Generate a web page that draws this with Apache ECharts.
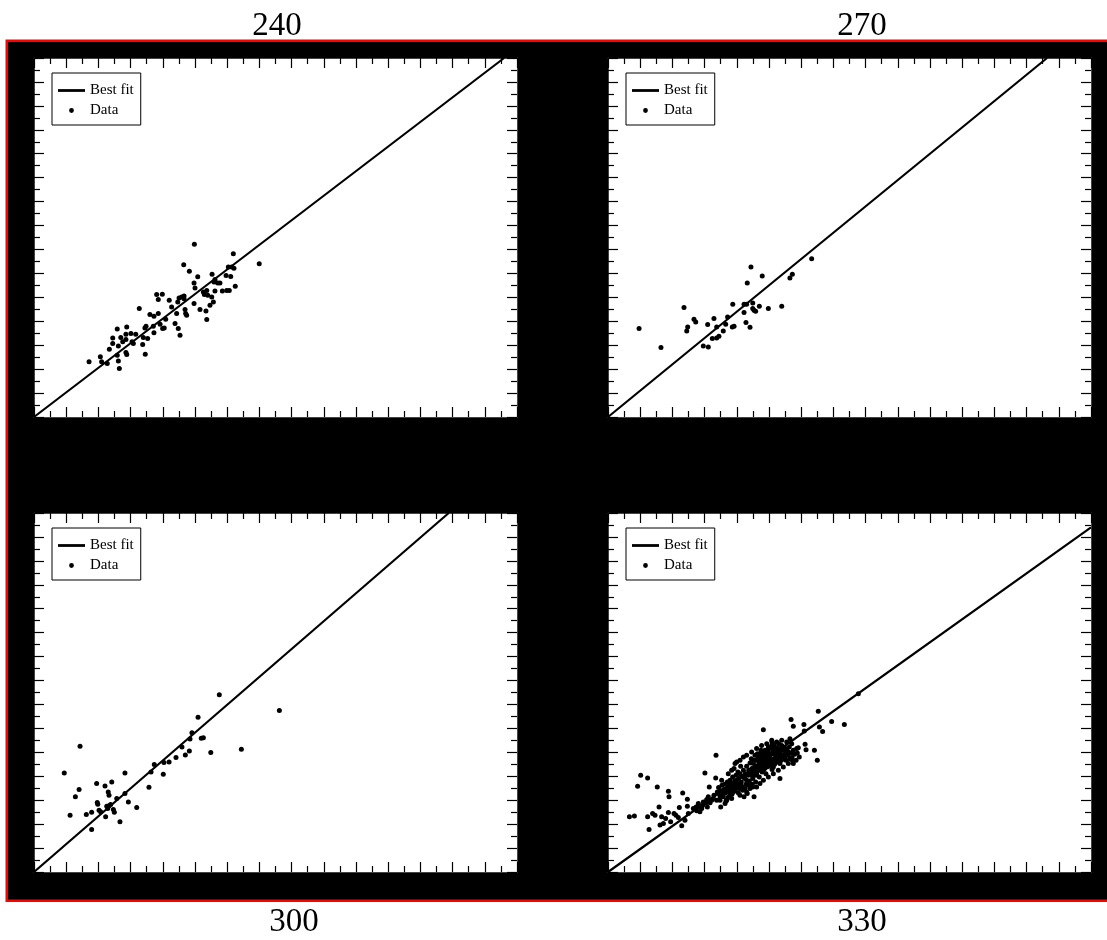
<!DOCTYPE html>
<html><head><meta charset="utf-8">
<script src="https://cdn.jsdelivr.net/npm/echarts@6/dist/echarts.min.js"></script>
<style>html,body{margin:0;padding:0;background:#fff;overflow:hidden}#c{width:1107px;height:940px}</style>
</head><body><div id="c"></div>
<script>
const panelTitles = ['240', '270', '300', '330'];
const seriesNames = ['Best fit', 'Data'];

const data240 = [[3.42,4.61],[4.12,5.03],[4.20,4.61],[4.55,4.48],[5.24,4.67],[5.30,4.06],[5.17,5.17],[4.68,5.67],[4.89,6.14],[4.89,6.61],[5.17,7.36],[5.24,5.94],[5.39,6.64],[5.51,6.28],[5.71,6.48],[5.76,7.53],[5.71,6.92],[6.02,6.98],[5.71,5.39],[5.76,5.23],[6.09,6.28],[6.17,6.14],[6.32,6.92],[6.54,9.06],[6.75,6.06],[6.79,6.64],[6.89,7.44],[6.96,7.58],[6.91,5.25],[7.06,6.56],[7.20,8.56],[7.41,7.58],[7.45,8.42],[7.45,7.03],[7.62,10.23],[7.72,9.81],[7.72,8.64],[7.83,7.75],[7.97,10.25],[7.99,7.39],[8.09,7.44],[8.18,8.17],[8.40,9.75],[8.55,9.19],[8.76,7.81],[8.86,8.64],[8.93,9.61],[8.96,7.39],[9.01,9.94],[9.07,6.83],[9.17,10.03],[9.32,10.11],[9.32,9.89],[9.38,8.98],[9.42,8.64],[9.48,8.50],[9.30,12.73],[9.65,12.19],[9.96,14.44],[9.94,11.19],[10.00,10.78],[9.94,9.48],[10.17,11.73],[10.31,8.98],[10.52,10.44],[10.58,10.23],[10.68,8.86],[10.73,8.14],[10.73,10.58],[10.79,10.17],[10.93,9.33],[11.06,11.92],[11.04,10.03],[11.14,9.61],[11.18,11.28],[11.24,11.5],[11.24,10.53],[11.41,11.19],[11.55,11.19],[11.70,10.53],[11.93,11.83],[11.97,10.58],[12.07,12.53],[12.13,10.58],[12.22,11.75],[12.28,12.53],[12.38,13.64],[12.42,12.44],[12.50,10.92],[13.99,12.81]];

const data270 = [[1.93,7.39],[3.29,5.81],[4.72,9.14],[4.95,7.53],[4.89,7.19],[5.34,8.17],[5.45,7.94],[5.92,5.94],[6.19,7.73],[6.23,5.86],[6.48,6.56],[6.58,8.23],[6.75,7.53],[6.75,6.61],[6.89,6.75],[7.16,7.19],[7.31,7.75],[7.43,8.36],[7.72,7.53],[7.83,7.58],[7.75,9.42],[8.45,9.42],[8.45,8.73],[8.57,7.89],[8.61,9.42],[8.65,11.19],[8.82,7.5],[8.88,12.53],[8.99,9.53],[8.99,9.06],[9.07,8.92],[9.17,8.83],[9.40,9.25],[9.58,11.78],[9.96,9.06],[10.79,9.25],[11.30,11.61],[11.45,11.92],[12.65,13.23]];

const data300 = [[1.88,8.28],[2.24,4.75],[2.57,6.28],[2.80,6.89],[2.86,10.5],[3.25,4.81],[3.58,5.0],[3.58,3.56],[3.89,7.39],[3.93,5.81],[3.96,5.67],[4.04,5.17],[4.14,5.03],[4.41,7.19],[4.45,4.61],[4.52,5.5],[4.58,5.31],[4.61,6.69],[4.66,6.42],[4.66,5.53],[4.76,5.64],[4.83,7.53],[4.93,5.23],[4.99,5.0],[5.14,6.14],[5.34,4.19],[5.65,8.28],[5.65,6.56],[5.86,5.86],[6.38,5.39],[7.14,7.08],[7.27,8.36],[7.47,8.98],[8.03,8.17],[8.07,9.14],[8.39,9.19],[8.82,9.56],[9.19,10.44],[9.40,9.78],[9.65,10.11],[9.69,11.11],[9.81,11.64],[10.19,12.94],[10.39,11.17],[10.52,11.22],[10.98,9.98],[11.51,14.81],[12.88,10.25],[15.24,13.5]];

const data330 = [[1.33,4.61],[1.64,4.67],[1.84,7.17],[2.03,8.08],[2.46,7.86],[2.55,3.56],[2.46,4.61],[2.77,4.89],[2.92,4.75],[3.06,7.11],[3.17,5.44],[3.23,3.92],[3.33,4.61],[3.44,4.06],[3.58,4.47],[3.75,6.75],[3.79,6.28],[3.75,4.97],[3.89,4.19],[4.10,4.89],[4.22,4.75],[4.37,4.56],[4.43,5.39],[4.58,3.86],[4.64,6.61],[4.78,4.33],[4.93,6.08],[4.93,5.5],[4.99,4.89],[5.30,5.31],[5.47,5.44],[5.61,5.72],[5.71,5.03],[5.82,5.31],[6.02,8.28],[5.92,5.86],[6.13,6.06],[6.23,6.28],[6.29,7.11],[6.34,5.78],[6.54,6.14],[6.71,9.75],[6.69,7.86],[6.85,6.56],[6.96,6.0],[7.00,5.44],[7.27,5.72],[7.33,5.94],
[9.65,11.89],[10.19,10.86],[10.23,10.72],[10.68,7.81],[10.79,10.58],[11.30,11.14],[11.37,12.75],[11.51,12.19],[11.45,9.33],[11.72,10.31],[11.82,10.39],[12.17,12.33],[12.19,11.78],[12.24,10.67],[12.30,10.22],[12.82,10.17],[13.00,9.33],[13.06,13.44],[13.13,12.11],[13.33,11.75],[13.89,12.58],[14.68,12.33],[15.55,14.89],
[6.79,6.69],[6.87,7.06],[6.96,6.28],[7.02,6.78],[7.08,7.25],[7.12,6.5],[7.20,6.89],[7.25,7.33],[7.29,6.61],[7.37,6.97],[7.41,7.53],[7.45,6.22],[7.49,7.17],[7.54,6.69],[7.58,7.67],[7.62,6.89],[7.66,7.39],[7.70,6.5],[7.74,7.94],[7.78,7.11],
[7.83,8.64],[7.87,7.61],[7.91,6.78],[7.95,8.08],[7.99,9.19],[8.03,7.33],[8.07,8.36],[8.12,7.81],[8.16,6.97],[8.20,8.22],[8.24,8.83],[8.28,7.53],[8.32,8.0],[8.36,6.83],[8.41,8.5],[8.45,6.28],[8.49,7.81],[8.53,8.22],[8.57,7.33],[8.61,8.83],[8.65,6.56],[8.70,8.08],[8.74,8.5],[8.78,7.61],[8.82,9.11],
[8.86,8.22],[8.90,9.47],[8.94,8.64],[8.99,7.81],[9.03,9.06],[9.07,6.28],[9.09,8.36],[9.13,9.75],[9.15,8.83],[9.19,8.08],[9.23,9.33],[9.28,8.5],[9.32,9.61],[9.36,9.0],[9.40,7.94],[9.44,9.89],[9.48,8.72],[9.52,9.39],[9.57,8.36],[9.61,9.75],[9.65,9.06],[9.69,10.03],[9.73,8.64],[9.77,9.47],[9.81,8.22],[9.86,9.83],
[9.90,9.19],[9.94,10.17],[9.98,8.83],[10.02,9.61],[10.06,10.39],[10.10,9.33],[10.14,9.89],[10.19,8.56],[10.23,10.22],[10.27,9.47],[10.31,10.58],[10.35,9.0],[10.39,9.94],[10.43,9.56],[10.48,10.39],[10.52,9.19],[10.56,10.11],[10.60,10.72],[10.64,9.61],[10.68,9.89],[10.72,10.31],[10.77,9.33],[10.81,10.5],[10.85,9.75],[10.89,10.17],[10.93,9.47],[10.97,10.39],[11.01,9.89],[11.06,9.33],[11.10,10.22],
[11.18,9.75],[11.26,10.44],[11.35,9.94],[11.43,9.56],[11.51,10.17],[11.59,9.83],[11.68,9.33],[11.76,9.94],[11.88,9.61],
[8.72,7.25],[8.96,7.33],[9.17,7.53],[9.38,8.5],[9.59,8.83],[9.79,9.06],[10.00,9.75],[10.21,9.06],[10.41,9.19],[10.62,10.03],[8.99,7.11],[8.51,6.97],[8.30,7.17],[8.10,6.61],[7.89,7.25],[7.68,6.14],[7.47,6.69],[9.23,8.78],[9.44,9.19],[9.65,9.47],[9.86,8.78],[10.06,9.89],[10.27,9.89],[10.48,9.67],[10.68,9.47],[9.07,9.33],[9.28,9.89],[9.50,10.17],[9.71,9.75],[9.92,9.53],
[7.47,8.22],[7.68,8.5],[7.89,9.06],[8.20,9.33],[8.41,9.61],[8.61,9.75],[8.92,10.03],[9.23,10.31],[9.54,10.58],[9.86,10.72],[10.17,11.0],[10.48,10.86],[10.79,11.0],[11.10,10.86],[11.41,10.72],
[8.20,6.42],[8.61,6.69],[8.82,6.97],[9.23,7.11],[9.44,7.39],[9.65,7.67],[9.96,7.94],[10.27,8.22],[10.58,8.5],[10.89,8.78],[11.20,9.06],[11.51,9.06],
[8.92,8.08],[9.13,8.5],[9.34,9.33],[9.54,9.61],[9.75,10.17],[9.96,10.44],[10.17,10.58],[10.37,10.31],[10.58,9.75],[10.79,10.17],[10.99,9.61],[11.20,10.03],[11.30,9.47],
[7.99,7.67],[8.20,7.39],[8.41,7.94],[8.61,7.67],[8.82,8.5],[9.03,8.64],[9.23,8.22],[9.44,8.78],[9.65,8.5],[9.86,9.33],[10.06,9.06],[10.27,8.78],[10.48,9.33],[10.68,9.06],
[7.16,6.28],[7.37,6.0],[7.58,6.42],[7.78,6.69],[7.99,7.11],[7.06,7.67],
[5.51,5.11],[5.67,5.44],[5.88,5.58],[6.09,5.78],[6.17,5.44],[6.44,6.0],[6.58,6.42],[6.75,6.0]];

const fit240 = [[0, 0], [29.2, 30]];
const fit270 = [[0, 0], [27.27, 30]];
const fit300 = [[0, 0], [25.76, 30]];
const fit330 = [[0, 0], [30, 28.8]];

const axisMin = 0, axisMax = 30, majorStep = 2;

const panelData = [data240, data270, data300, data330];
const panelFits = [fit240, fit270, fit300, fit330];

const gridPos = [{left: 34, top: 58}, {left: 608, top: 58}, {left: 34, top: 513}, {left: 608, top: 513}];
const titlePos = [{x: 277, y: 10}, {x: 862, y: 10}, {x: 294, y: 906}, {x: 862, y: 906}];

const chart = echarts.init(document.getElementById('c'), null, {renderer: 'canvas'});

const grids = gridPos.map(g => ({
  left: g.left, top: g.top, width: 483, height: 359,
  show: true, backgroundColor: '#fff', borderWidth: 0, containLabel: false, outerBoundsMode: 'none'
}));

function makeAxis(gi, position) {
  return {
    type: 'value', gridIndex: gi, position: position,
    min: axisMin, max: axisMax, interval: majorStep,
    axisLine: {show: true, onZero: false, lineStyle: {color: '#444', width: 1}},
    axisTick: {show: true, inside: true, length: 10, lineStyle: {color: '#000', width: 1.2}},
    minorTick: {show: true, splitNumber: 2, length: 6, lineStyle: {color: '#000', width: 1.2}},
    axisLabel: {show: false},
    splitLine: {show: false}, minorSplitLine: {show: false}
  };
}

const xAxes = [], yAxes = [], series = [], titles = [], legends = [];
gridPos.forEach((g, i) => {
  xAxes.push(makeAxis(i, 'bottom'), makeAxis(i, 'top'));
  yAxes.push(makeAxis(i, 'left'), makeAxis(i, 'right'));
  series.push({
    type: 'line', name: seriesNames[0], xAxisIndex: 2 * i, yAxisIndex: 2 * i,
    data: panelFits[i], symbol: 'none', showSymbol: false, silent: true, z: 3,
    lineStyle: {color: '#000', width: 2.2}, itemStyle: {color: '#000'}
  });
  series.push({
    type: 'scatter', name: seriesNames[1], xAxisIndex: 2 * i, yAxisIndex: 2 * i,
    data: panelData[i], symbol: 'circle', symbolSize: 5, z: 4,
    itemStyle: {color: '#000', borderWidth: 0, opacity: 1}
  });
  titles.push({
    text: panelTitles[i], left: titlePos[i].x, top: titlePos[i].y, padding: 0,
    textAlign: 'center',
    textStyle: {fontFamily: 'Liberation Serif', fontSize: 33, fontWeight: 'normal', color: '#000'}
  });
  legends.push({
    orient: 'vertical', left: g.left + 18, top: g.top + 15,
    itemWidth: 27, itemHeight: 14, itemGap: 5,
    padding: [10, 7, 7, 6],
    borderColor: '#000', borderWidth: 1, backgroundColor: '#fff',
    itemStyle: {borderWidth: 0, opacity: 1},
    textStyle: {fontFamily: 'Liberation Serif', fontSize: 15, color: '#000'},
    data: [
      {name: seriesNames[0], icon: 'path://M0,0H27V2.8H0Z'},
      {name: seriesNames[1], icon: 'path://M0,0M27,14M13.5,4.6A2.4,2.4 0 1,1 13.5,9.4A2.4,2.4 0 1,1 13.5,4.6Z'}
    ]
  });
});

chart.setOption({
  animation: false,
  backgroundColor: 'transparent',
  graphic: [{
    type: 'rect', z: -10, silent: true,
    shape: {x: 6.75, y: 40.75, width: 1120, height: 860},
    style: {fill: '#000', stroke: '#f00', lineWidth: 2.5}
  }],
  title: titles,
  legend: legends,
  grid: grids,
  xAxis: xAxes,
  yAxis: yAxes,
  series: series
});
</script></body></html>
